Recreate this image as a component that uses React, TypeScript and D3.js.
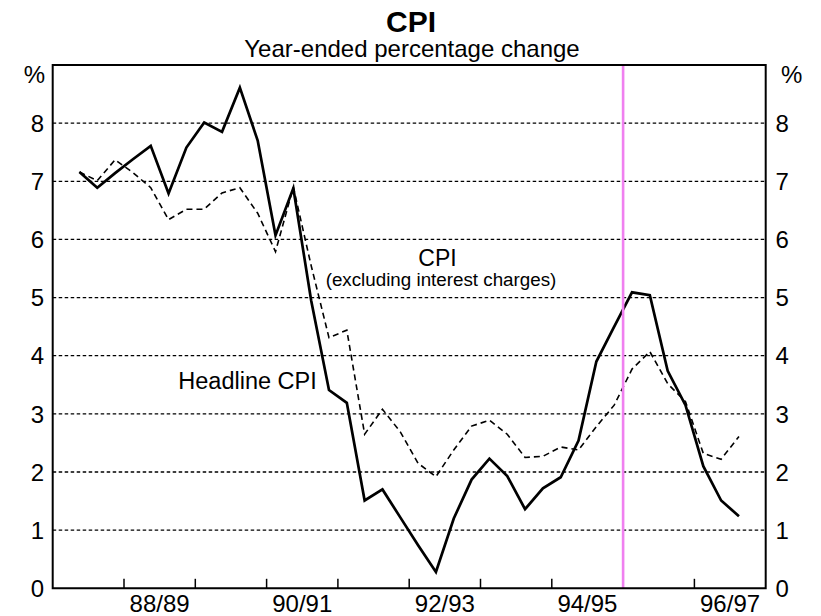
import * as d3 from "d3";

// quarterly observations, Dec-1987 .. Mar-1997
const quarters = [
  "Dec-87", "Mar-88", "Jun-88", "Sep-88", "Dec-88", "Mar-89", "Jun-89", "Sep-89",
  "Dec-89", "Mar-90", "Jun-90", "Sep-90", "Dec-90", "Mar-91", "Jun-91", "Sep-91",
  "Dec-91", "Mar-92", "Jun-92", "Sep-92", "Dec-92", "Mar-93", "Jun-93", "Sep-93",
  "Dec-93", "Mar-94", "Jun-94", "Sep-94", "Dec-94", "Mar-95", "Jun-95", "Sep-95",
  "Dec-95", "Mar-96", "Jun-96", "Sep-96", "Dec-96", "Mar-97",
];

const headlineCPI = [
  7.16, 6.89, 7.14, 7.38, 7.61, 6.79, 7.58, 8.01, 7.85, 8.61,
  7.7, 6.07, 6.88, 4.95, 3.41, 3.19, 1.51, 1.7, 1.22, 0.74,
  0.28, 1.2, 1.87, 2.23, 1.93, 1.36, 1.72, 1.91, 2.54, 3.9,
  4.5, 5.09, 5.04, 3.74, 3.15, 2.1, 1.51, 1.24,
];

const cpiExInterest = [
  7.16, 7.01, 7.37, 7.15, 6.89, 6.34, 6.52, 6.52, 6.8, 6.89,
  6.45, 5.79, 6.9, 5.55, 4.31, 4.44, 2.65, 3.08, 2.69, 2.15,
  1.92, 2.38, 2.79, 2.89, 2.65, 2.25, 2.27, 2.43, 2.38, 2.78,
  3.15, 3.77, 4.07, 3.52, 3.21, 2.32, 2.22, 2.61,
];

// financial years along the axis, first one starts Sep quarter 1987
const fiscalYears = [
  "87/88", "88/89", "89/90", "90/91", "91/92",
  "92/93", "93/94", "94/95", "95/96", "96/97",
];
const labelledYears = ["88/89", "90/91", "92/93", "94/95", "96/97"];
const yTicks = [0, 1, 2, 3, 4, 5, 6, 7, 8];
const markerQuarter = 32; // start of 95/96

const W = 821;
const H = 616;
const margin = { left: 52.7, right: 55.3, top: 65, bottom: 27.7 };
const font = "'Liberation Sans', Arial, sans-serif";

export default function App() {
  const x = d3
    .scaleLinear()
    .domain([0, fiscalYears.length * 4])
    .range([margin.left, W - margin.right]);
  const y = d3
    .scaleLinear()
    .domain([0, 9])
    .range([H - margin.bottom, margin.top]);

  // each quarter sits in the middle of its slot; first obs is 2nd quarter
  const qx = (i: number) => x(i + 1 + 0.5);
  const line = d3
    .line<number>()
    .x((_, i) => qx(i))
    .y((d) => y(d));

  const x0 = margin.left;
  const x1 = W - margin.right;
  const yBottom = y(0);
  const yTop = margin.top;

  return (
    <svg
      width={W}
      height={H}
      style={{ position: "absolute", left: 0, top: 0, display: "block" }}
      fontFamily={font}
    >
      <rect width={W} height={H} fill="#fff" />

      {/* titles */}
      <text x={411} y={31.5} textAnchor="middle" fontSize={30} fontWeight="bold">
        CPI
      </text>
      <text x={412} y={56.5} textAnchor="middle" fontSize={24}>
        Year-ended percentage change
      </text>

      {/* horizontal gridlines */}
      {yTicks
        .filter((t) => t > 0)
        .map((t) => (
          <line
            key={t}
            x1={x0}
            x2={x1}
            y1={y(t)}
            y2={y(t)}
            stroke="#000"
            strokeWidth={1.3}
            strokeDasharray="3.5,2.5"
          />
        ))}

      {/* year ticks on the bottom axis */}
      {fiscalYears.slice(1).map((fy, k) => (
        <line
          key={fy}
          x1={x((k + 1) * 4)}
          x2={x((k + 1) * 4)}
          y1={yBottom}
          y2={yBottom - 9.5}
          stroke="#000"
          strokeWidth={1.5}
        />
      ))}

      {/* series */}
      <path
        d={line(cpiExInterest) ?? ""}
        fill="none"
        stroke="#000"
        strokeWidth={1.6}
        strokeDasharray="6,4"
      />
      <path
        d={line(headlineCPI) ?? ""}
        fill="none"
        stroke="#000"
        strokeWidth={2.7}
        strokeLinejoin="miter"
      />

      {/* marker line */}
      <line
        x1={x(markerQuarter)}
        x2={x(markerQuarter)}
        y1={yTop}
        y2={yBottom}
        stroke="#f080f0"
        strokeWidth={2.6}
      />

      {/* frame */}
      <path
        d={`M${x0},${yBottom}V${yTop}H${x1}V${yBottom}Z`}
        fill="none"
        stroke="#000"
        strokeWidth={2}
      />

      {/* y labels */}
      {yTicks.map((t) => (
        <g key={t} fontSize={24}>
          <text x={44} y={y(t)} dy="0.36em" textAnchor="end">
            {t}
          </text>
          <text x={775.5} y={y(t)} dy="0.36em" textAnchor="start">
            {t}
          </text>
        </g>
      ))}
      <text x={45} y={83.3} textAnchor="end" fontSize={24}>
        %
      </text>
      <text x={781} y={83.3} textAnchor="start" fontSize={24}>
        %
      </text>

      {/* x labels */}
      {fiscalYears.map((fy, k) =>
        labelledYears.includes(fy) ? (
          <text key={fy} x={x(k * 4 + 2)} y={612} textAnchor="middle" fontSize={24}>
            {fy}
          </text>
        ) : null
      )}

      {/* series labels */}
      <text x={437.5} y={265.5} textAnchor="middle" fontSize={23}>
        CPI
      </text>
      <text x={441} y={285.5} textAnchor="middle" fontSize={18.8}>
        (excluding interest charges)
      </text>
      <text x={247.5} y={389.3} textAnchor="middle" fontSize={23.5}>
        Headline CPI
      </text>
    </svg>
  );
}
